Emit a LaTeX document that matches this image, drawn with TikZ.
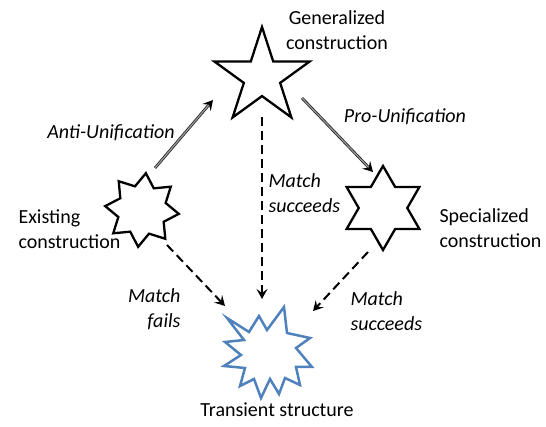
\documentclass[tikz,border=0pt]{standalone}
\usepackage{fontspec}
\setmainfont{Carlito}
\usetikzlibrary{shapes.geometric,arrows.meta,calc}
\definecolor{burstblue}{RGB}{79,129,189}
\begin{document}
\begin{tikzpicture}[x=1pt,y=-1pt,
  every node/.style={font=\fontsize{20}{25}\selectfont},
  lbl/.style={font=\fontsize{20}{25}\selectfont\itshape},
  starshape/.style={star, draw=black, line width=2.3pt, inner sep=0pt, fill=white},
  dblline/.style={draw=black!85, line width=0.8pt, double=black!40, double distance=1.2pt},
  tip/.style={-{Stealth[length=10pt,width=11pt,inset=4pt]}, line width=1pt, black},
  dashedarrow/.style={line width=2pt, dash pattern=on 9pt off 5pt, -{Stealth[length=10pt,width=11pt,inset=4pt]}}
]
\useasboundingbox (0,0) rectangle (546,427);

% stars
\node[starshape, star points=5, star point ratio=2.618, minimum size=100pt] (gen) at (262,77) {};
\node[starshape, star points=8, star point ratio=1.5, minimum size=74pt, shape border rotate=-6] (ex) at (142,210) {};
\node[starshape, star points=6, star point ratio=1.73, minimum size=84pt] (sp) at (383,208) {};

% transient structure burst
\coordinate (ts) at (268,355);
\draw[burstblue, line width=2.5pt, line join=miter]
  (227,318) -- (249,332) -- (259,316) -- (267,330) -- (284,307) -- (287,333)
  -- (310,338) -- (296,348) -- (312,367) -- (296,367) -- (300,385) -- (285,378)
  -- (279,394) -- (270,379) -- (261,398) -- (254,379) -- (240,386) -- (245,368)
  -- (224,366) -- (241,355) -- (225,342) -- (244,340) -- cycle;

% connector end points
\coordinate (a1s) at (155,168); \coordinate (a1e) at (213,100);
\coordinate (a2s) at (302,98);  \coordinate (a2e) at (373,172);
\coordinate (d1s) at (262,117); \coordinate (d1e) at (262,299);
\coordinate (d2s) at (167,245); \coordinate (d2e) at (225,306);
\coordinate (d3s) at (368,252); \coordinate (d3e) at (313,311);

% solid double arrows
\draw[dblline, shorten >=4pt] (a1s) -- (a1e);
\draw[tip] ($(a1e)!5pt!(a1s)$) -- (a1e);
\draw[dblline, shorten >=4pt] (a2s) -- (a2e);
\draw[tip] ($(a2e)!5pt!(a2s)$) -- (a2e);

% dashed arrows
\draw[dashedarrow] (d1s) -- (d1e);
\draw[dashedarrow] (d2s) -- (d2e);
\draw[dashedarrow] (d3s) -- (d3e);

% labels
\node[align=center] (genl) at (337,30) {Generalized\\construction};
\node[lbl] (anti) at (111,133) {Anti-Unification};
\node[lbl] (pro) at (405,117) {Pro-Unification};
\node[lbl, align=left, anchor=west] (ms1) at (265,193) {Match\\succeeds};
\node[align=left, anchor=west] (exl) at (15,229) {Existing\\construction};
\node[align=left, anchor=west] (spl) at (436,228) {Specialized\\construction};
\node[lbl, align=right, anchor=east] (mf) at (184,309) {Match\\fails};
\node[lbl, align=left, anchor=west] (ms2) at (347,311) {Match\\succeeds};
\node (tsl) at (277,410) {Transient structure};
\end{tikzpicture}
\end{document}
